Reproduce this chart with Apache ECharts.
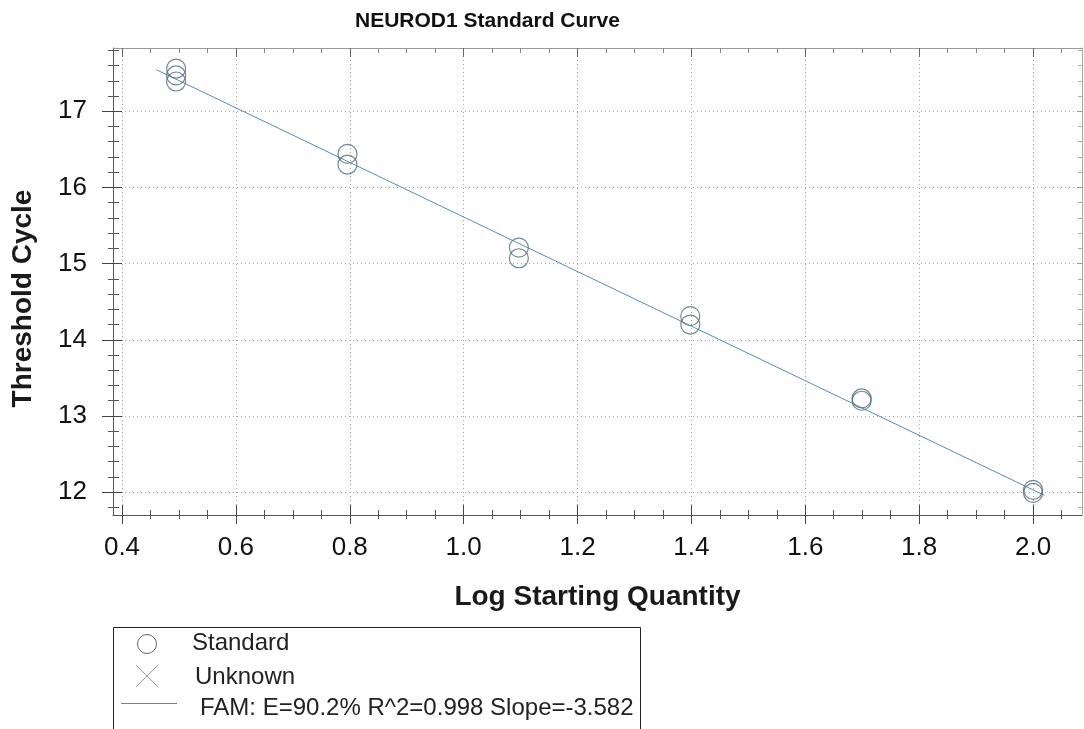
<!DOCTYPE html>
<html><head><meta charset="utf-8">
<script src="https://cdn.jsdelivr.net/npm/echarts@6/dist/echarts.min.js"></script>
<style>html,body{margin:0;padding:0;background:#fff}#c{width:1084px;height:729px}</style>
</head><body><div id="c"></div>
<script>
// ---- data ----
const titleText = 'NEUROD1 Standard Curve';
const xName = 'Log Starting Quantity';
const yName = 'Threshold Cycle';
const stdX = [0.495, 0.495, 0.495, 0.796, 0.796, 1.097, 1.097, 1.398, 1.398, 1.699, 1.699, 2.0, 2.0];
const stdY = [17.56, 17.47, 17.39, 16.44, 16.30, 15.21, 15.07, 14.31, 14.20, 13.23, 13.20, 12.03, 11.99];
const unknownX = [];
const unknownY = [];
const fitX = [0.46, 2.02];
const fitY = [17.546, 11.958];
const xTicks = [0.4, 0.6, 0.8, 1.0, 1.2, 1.4, 1.6, 1.8, 2.0];
const xTickLabels = ['0.4', '0.6', '0.8', '1.0', '1.2', '1.4', '1.6', '1.8', '2.0'];
const xMinorTicks = [0.45, 0.5, 0.55, 0.65, 0.7, 0.75, 0.85, 0.9, 0.95, 1.05, 1.1, 1.15, 1.25, 1.3, 1.35, 1.45, 1.5, 1.55, 1.65, 1.7, 1.75, 1.85, 1.9, 1.95, 2.05];
const yTicks = [12, 13, 14, 15, 16, 17];
const yTickLabels = ['12', '13', '14', '15', '16', '17'];
const yMinorTicks = [11.8, 12.2, 12.4, 12.6, 12.8, 13.2, 13.4, 13.6, 13.8, 14.2, 14.4, 14.6, 14.8, 15.2, 15.4, 15.6, 15.8, 16.2, 16.4, 16.6, 16.8, 17.2, 17.4, 17.6, 17.8];
const legendNames = ['Standard', 'Unknown', 'FAM: E=90.2% R^2=0.998 Slope=-3.582'];

// ---- layout/style ----
const XMIN = 0.3842, XMAX = 2.086, YMIN = 11.70, YMAX = 17.83;
const FONT = '"Liberation Sans", Arial, sans-serif';

function ax(kind, pos, vals, inside, len, color, lineShow, lineColor, extra) {
  const o = {
    type: 'value', min: kind === 'x' ? XMIN : YMIN, max: kind === 'x' ? XMAX : YMAX,
    position: pos, offset: 0, scale: true,
    axisLine: { show: lineShow, onZero: false, lineStyle: { color: lineColor || '#555', width: 1 } },
    axisTick: { show: true, customValues: vals, inside: inside, length: len, lineStyle: { color: color, width: 1 } },
    axisLabel: { show: false },
    splitLine: { show: false },
    minorTick: { show: false }
  };
  return Object.assign(o, extra || {});
}
const gridLine = { show: true, lineStyle: { color: '#a8a8a8', type: [1, 3], width: 1 } };

const xAxes = [
  ax('x', 'bottom', xTicks, false, 9, '#444', true, '#555', {
    axisLabel: { show: true, customValues: xTicks, formatter: v => xTickLabels[xTicks.findIndex(t => Math.abs(t - v) < 1e-6)], fontSize: 26, fontFamily: FONT, color: '#111', margin: 20 },
    splitLine: gridLine,
    name: xName, nameLocation: 'middle', nameGap: 68,
    nameTextStyle: { fontSize: 28, fontWeight: 'bold', fontFamily: FONT, color: '#1a1a1a' }
  }),
  ax('x', 'bottom', xTicks, true, 10, '#444', false),
  ax('x', 'bottom', xMinorTicks, false, 4, '#555', false),
  ax('x', 'bottom', xMinorTicks, true, 5, '#555', false),
  ax('x', 'top', xTicks, true, 9, '#666', true, '#999'),
  ax('x', 'top', xMinorTicks, true, 5, '#888', false)
];
const yAxes = [
  ax('y', 'left', yTicks, false, 11, '#444', true, '#555', {
    axisLabel: { show: true, customValues: yTicks, formatter: v => yTickLabels[yTicks.findIndex(t => Math.abs(t - v) < 1e-6)], fontSize: 26, fontFamily: FONT, color: '#111', margin: 26 },
    splitLine: gridLine,
    name: yName, nameLocation: 'middle', nameGap: 76,
    nameTextStyle: { fontSize: 28, fontWeight: 'bold', fontFamily: FONT, color: '#1a1a1a', padding: [0, 34, 0, 0] }
  }),
  ax('y', 'left', yTicks, true, 9, '#444', false),
  ax('y', 'left', yMinorTicks, false, 5, '#555', false),
  ax('y', 'left', yMinorTicks, true, 6, '#555', false),
  ax('y', 'right', yTicks, true, 5, '#999', true, '#aaa'),
  ax('y', 'right', yMinorTicks, true, 4, '#aaa', false)
];

const circleColor = '#4f6b7a';
const lineColor = '#5b8ea6';
const legendFont = { fontSize: 24, fontFamily: FONT, fill: '#222' };

const option = {
  animation: false,
  backgroundColor: '#fff',
  title: {
    text: titleText, left: 350, top: 6,
    textStyle: { fontSize: 21, fontWeight: 'bold', fontFamily: FONT, color: '#111' }
  },
  grid: { left: 113, right: 2, top: 48, bottom: 214, containLabel: false },
  xAxis: xAxes,
  yAxis: yAxes,
  graphic: [
    { type: 'rect', silent: true, shape: { x: 113.5, y: 627.5, width: 527, height: 130 },
      style: { fill: 'none', stroke: '#222', lineWidth: 1 } },
    { type: 'circle', silent: true, shape: { cx: 147, cy: 644, r: 9.5 },
      style: { fill: 'none', stroke: '#666', lineWidth: 1 } },
    { type: 'polyline', silent: true, shape: { points: [[136, 665], [158, 687]] },
      style: { stroke: '#999', lineWidth: 1 } },
    { type: 'polyline', silent: true, shape: { points: [[158, 665], [136, 687]] },
      style: { stroke: '#999', lineWidth: 1 } },
    { type: 'line', silent: true, shape: { x1: 121, y1: 703.5, x2: 177, y2: 703.5 },
      style: { stroke: lineColor, lineWidth: 1 } },
    { type: 'text', silent: true, x: 192, y: 643,
      style: Object.assign({ text: legendNames[0], verticalAlign: 'middle' }, legendFont) },
    { type: 'text', silent: true, x: 195, y: 677,
      style: Object.assign({ text: legendNames[1], verticalAlign: 'middle' }, legendFont) },
    { type: 'text', silent: true, x: 200, y: 708,
      style: Object.assign({ text: legendNames[2], verticalAlign: 'middle' }, legendFont) }
  ],
  series: [
    {
      name: legendNames[2], type: 'line', xAxisIndex: 0, yAxisIndex: 0,
      data: fitX.map((x, i) => [x, fitY[i]]),
      symbol: 'none', lineStyle: { color: lineColor, width: 1 }, itemStyle: { color: lineColor }, z: 2
    },
    {
      name: legendNames[0], type: 'scatter', xAxisIndex: 0, yAxisIndex: 0,
      data: stdX.map((x, i) => [x, stdY[i]]),
      symbol: 'circle', symbolSize: 19,
      itemStyle: { color: 'transparent', borderColor: circleColor, borderWidth: 1.2 }, z: 3
    },
    {
      name: legendNames[1], type: 'scatter', xAxisIndex: 0, yAxisIndex: 0,
      data: unknownX.map((x, i) => [x, unknownY[i]]),
      symbol: 'path://M0,0L10,10M10,0L0,10', symbolSize: 20,
      itemStyle: { color: 'transparent', borderColor: '#999', borderWidth: 1 }, z: 3
    }
  ]
};
const chart = echarts.init(document.getElementById('c'), null, { renderer: 'canvas' });
chart.setOption(option);
</script>
</body></html>
